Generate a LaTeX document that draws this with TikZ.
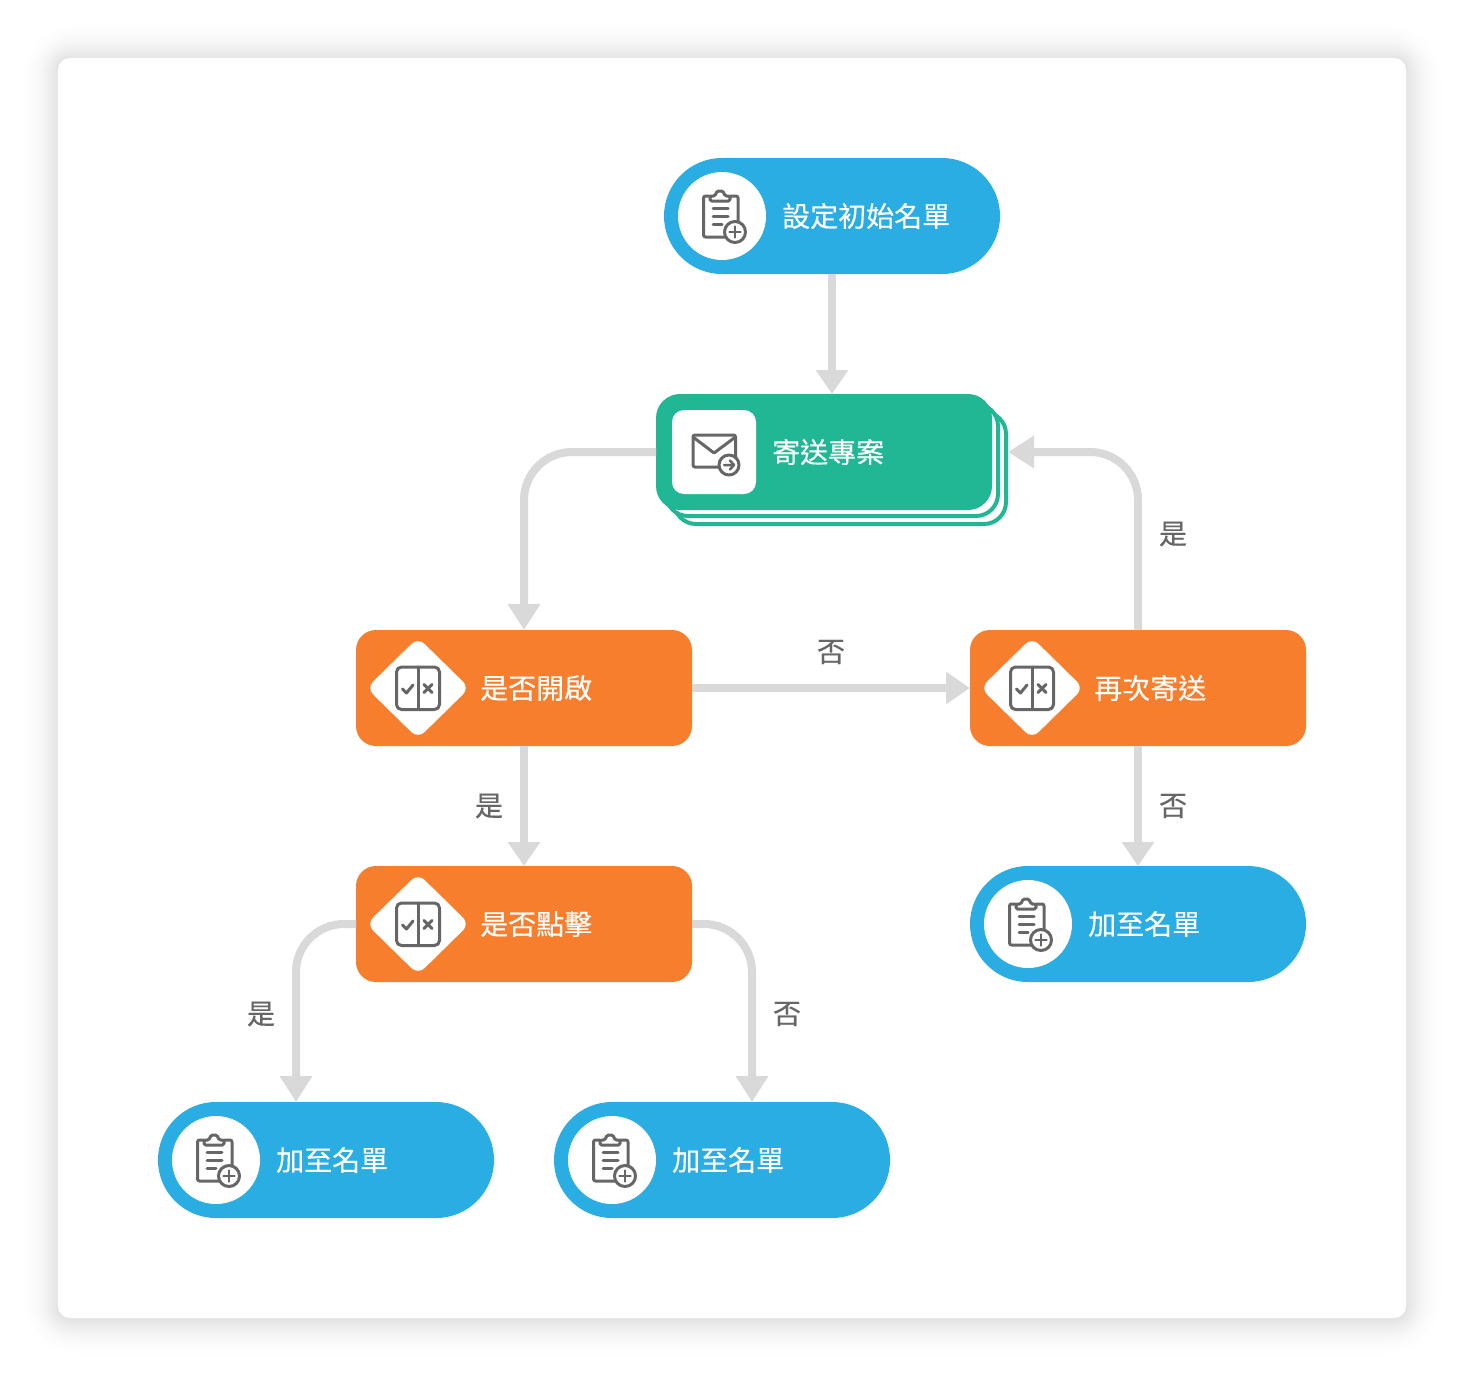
\documentclass[tikz,border=0pt]{standalone}
\usepackage{fontspec}
\usetikzlibrary{arrows.meta,calc}
\newfontfamily\cjk[FakeBold=0.25]{Noto Sans CJK TC}
\definecolor{cblue}{HTML}{29ADE2}
\definecolor{cgreen}{HTML}{22B794}
\definecolor{corange}{HTML}{F77E2D}
\definecolor{clink}{HTML}{D9D9D9}
\definecolor{cicon}{HTML}{666666}
\tikzset{
  x=1pt,y=-1pt,
  base/.style={inner sep=0pt,outer sep=0pt,minimum width=336pt,minimum height=116pt},
  pill/.style={base,fill=cblue,rounded corners=58pt},
  decide/.style={base,fill=corange,rounded corners=20pt},
  mailbox/.style={base,fill=cgreen,rounded corners=24pt},
  stacklayer/.style={inner sep=0pt,outer sep=0pt,minimum width=332pt,minimum height=112pt,fill=white,draw=cgreen,line width=4pt,rounded corners=22pt},
  title/.style={anchor=west,inner sep=0pt,text=white,font=\cjk\fontsize{28}{28}\selectfont},
  yn/.style={inner sep=0pt,text=cicon,font=\cjk\fontsize{28}{28}\selectfont},
  link/.style={draw=clink,line width=8pt,-{Triangle[length=24pt,width=31pt]}},
  curved/.style={draw=clink,line width=8pt,-{Triangle[length=26pt,width=31pt]},rounded corners=48pt},
  ic/.style={draw=cicon,line width=3pt,line cap=round,line join=round},
  pics/listicon/.style={code={
    \fill[white] (0,0) circle[radius=44];
    \draw[ic,rounded corners=2pt] (-12,-20) -- (-18.5,-20) -- (-18.5,21) -- (16,21) -- (16,-20) -- (8,-20);
    \draw[ic,rounded corners=1.5pt] (-12,-20) -- (-12,-15) -- (8,-15) -- (8,-20) -- (3,-20) -- (1,-25) -- (-5,-25) -- (-7,-20) -- cycle;
    \draw[ic] (-9,-8) -- (6,-8) (-9,0) -- (6,0) (-9,8) -- (0,8);
    \draw[ic,fill=white] (13,16) circle[radius=10.5];
    \draw[ic,line width=2.5pt] (13,10.5) -- (13,21.5) (7.5,16) -- (18.5,16);
  }},
  pics/mailicon/.style={code={
    \fill[white,rounded corners=12pt] (-42,-42) rectangle (42,42);
    \draw[ic,rounded corners=2pt] (-21,-17) rectangle (21.5,15);
    \draw[ic] (-21,-15) -- (0,1) -- (21.5,-15);
    \draw[ic,fill=white] (15,13) circle[radius=10];
    \draw[ic,line width=2.5pt] (10,13) -- (20,13) (16,8.5) -- (20,13) -- (16,17.5);
  }},
  pics/choiceicon/.style={code={
    \fill[white,rounded corners=9pt] (-51.5,0) -- (0,-50.5) -- (51.5,0) -- (0,50.5) -- cycle;
    \draw[ic,rounded corners=5pt] (-21.5,-21) rectangle (21.5,21.5);
    \draw[ic] (0,-21) -- (0,21.5);
    \draw[ic] (-15.5,1) -- (-11.5,5) -- (-5,-3);
    \draw[ic] (6,-3.5) -- (14,4.5) (14,-3.5) -- (6,4.5);
  }}
}
\begin{document}
\begin{tikzpicture}
\useasboundingbox (0,0) rectangle (1464,1376);
% soft shadow round the sheet
\foreach \d in {40,39,...,1}{
  \pgfmathsetmacro{\shade}{11*(1-\d/40)*(1-\d/40)}
  \pgfmathsetmacro{\rad}{12+1.3*\d}
  \fill[black!\shade!white,rounded corners=\rad pt] (58-\d,59-\d) rectangle (1406+\d,1319+\d);
}
\node[name=sheet,anchor=north west,inner sep=0pt,outer sep=0pt,minimum width=1348pt,minimum height=1260pt,fill=white,rounded corners=12pt] at (58,58) {};

% nodes
\node[pill] (list) at (832,216) {};
\node[stacklayer] (send3) at (840,468) {};
\node[stacklayer] (send2) at (832,460) {};
\node[mailbox] (send) at (824,452) {};
\node[decide] (open) at (524,688) {};
\node[decide] (retry) at (1138,688) {};
\node[decide] (click) at (524,924) {};
\node[pill] (addr) at (1138,924) {};
\node[pill] (addy) at (326,1160) {};
\node[pill] (addn) at (722,1160) {};
\coordinate (sendin) at (1008,452);
\coordinate (ya) at (296,1102);
\coordinate (na) at (752,1102);

% connectors
\draw[link] (list.south) -- (list.south |- send.north);
\draw[curved] (send.west) -| (open.north);
\draw[curved] (retry.north) |- (sendin);
\draw[link] (open.east) -- (retry.west);
\draw[link] (open.south) -- (click.north);
\draw[link] (retry.south) -- (addr.north);
\draw[curved] (click.west) -| (ya);
\draw[curved] (click.east) -| (na);

% icons
\pic at (722,216) {listicon};
\pic at (714,452) {mailicon};
\pic at (418,688) {choiceicon};
\pic at (1032,688) {choiceicon};
\pic at (418,924) {choiceicon};
\pic at (1028,924) {listicon};
\pic at (216,1160) {listicon};
\pic at (612,1160) {listicon};

% titles
\node[title] (tlist) at (782,216) {設定初始名單};
\node[title] (tsend) at (772,452) {寄送專案};
\node[title] (topen) at (480,688) {是否開啟};
\node[title] (tretry) at (1094,688) {再次寄送};
\node[title] (tclick) at (480,924) {是否點擊};
\node[title] (taddr) at (1088,924) {加至名單};
\node[title] (taddy) at (276,1160) {加至名單};
\node[title] (taddn) at (672,1160) {加至名單};

% answers
\node[yn] (l1) at (1173,534) {是};
\node[yn] (l2) at (831,652) {否};
\node[yn] (l3) at (489,806) {是};
\node[yn] (l4) at (1173,806) {否};
\node[yn] (l5) at (261,1014) {是};
\node[yn] (l6) at (787,1014) {否};
\end{tikzpicture}
\end{document}
